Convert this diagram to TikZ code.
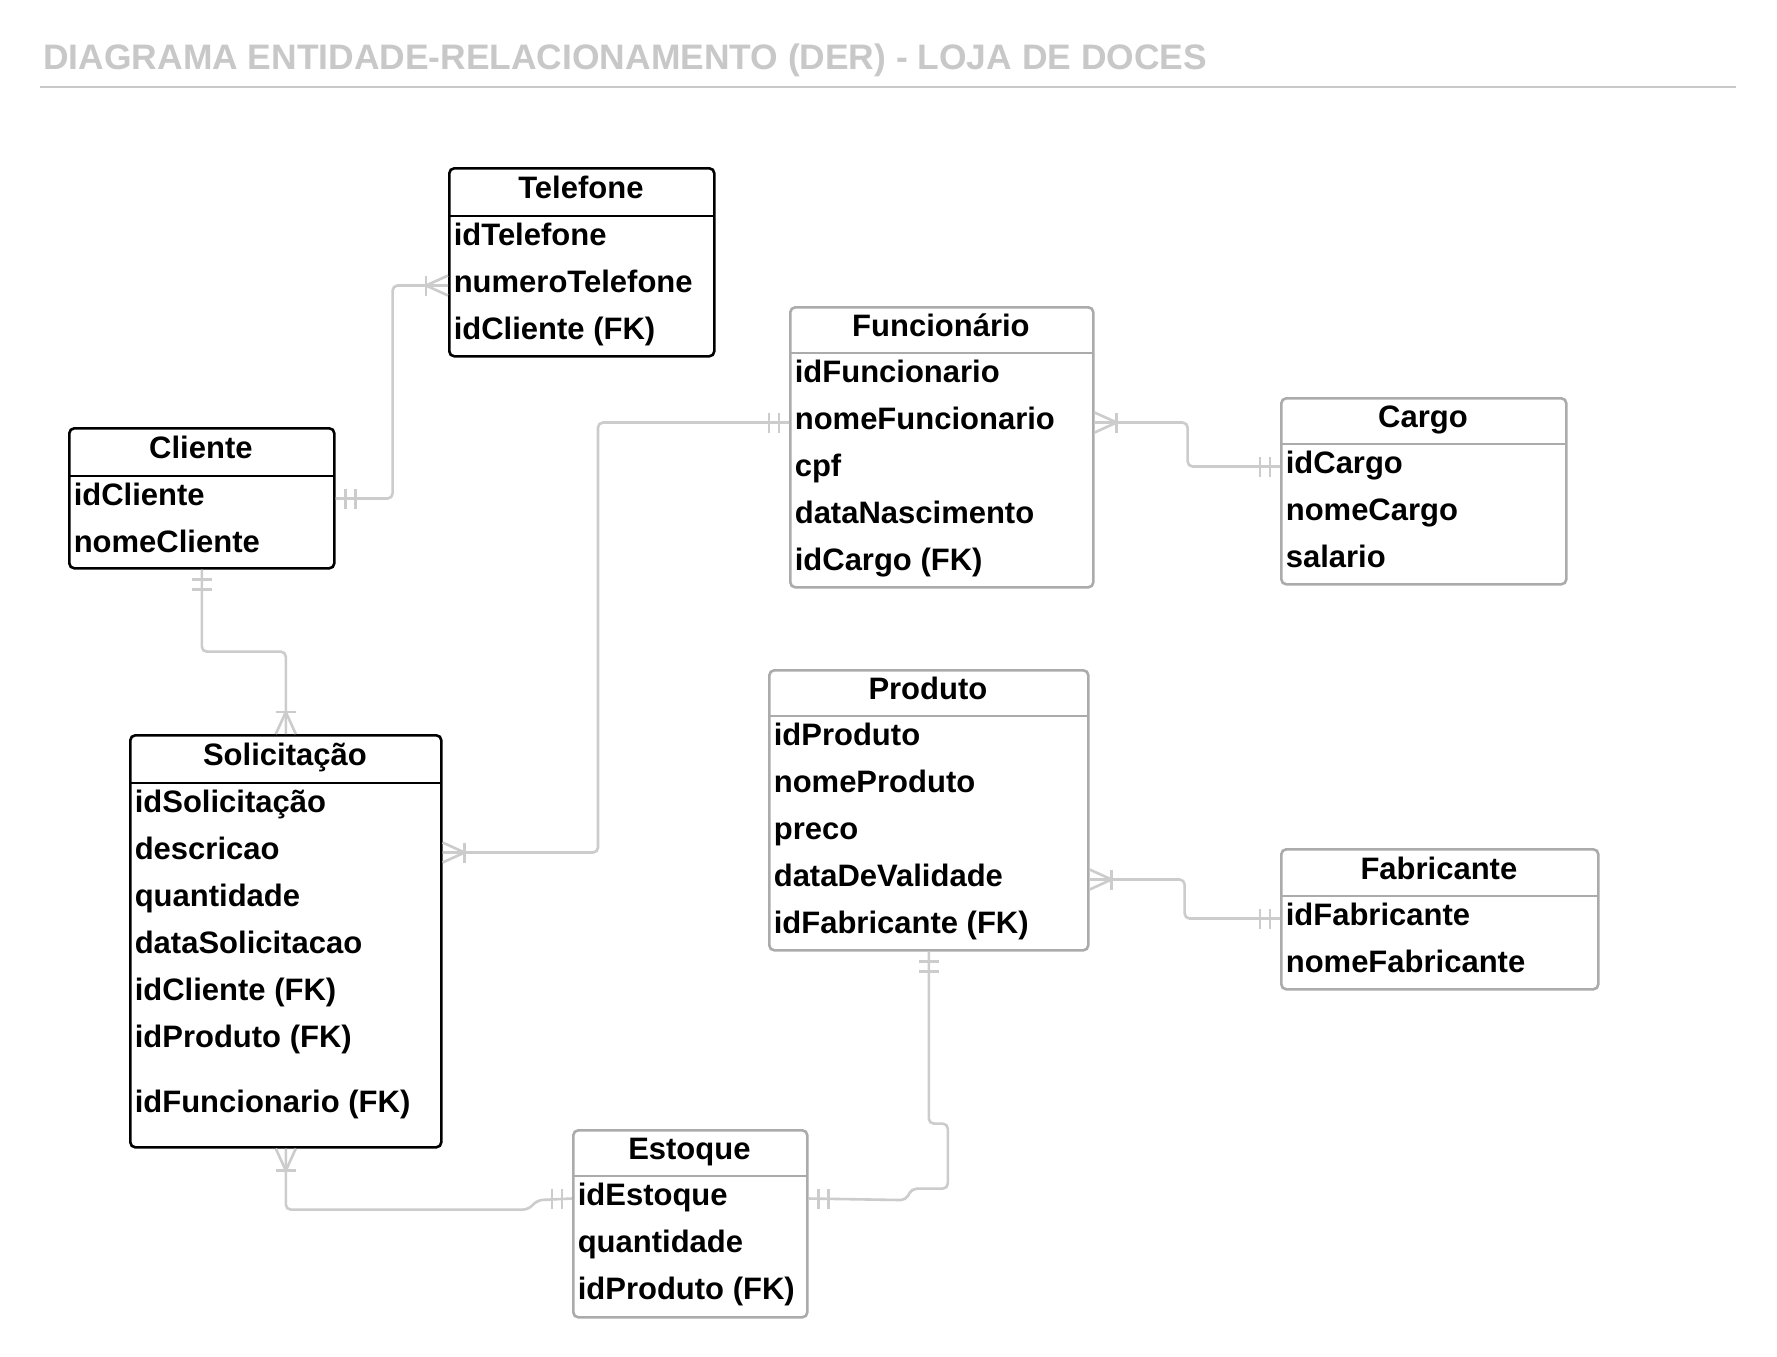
\documentclass[tikz,border=0pt]{standalone}
\usepackage{fontspec}
\setmainfont{Liberation Sans}
\usetikzlibrary{calc}
\definecolor{conncol}{HTML}{CCCCCC}
\definecolor{boxgray}{HTML}{ABABAB}
\definecolor{titlecol}{HTML}{C8C8C8}
\newcommand\rowfont{\fontsize{15.5}{18}\selectfont\bfseries}
% mandatory one: two bars; #1 point, #2 dx, #3 dy (outward direction)
\newcommand\barsone[3]{%
  \draw[conn] ($(#1)+({10*(#2)-10*(#3)},{10*(#3)-10*(#2)})$) -- ++({20*(#3)},{20*(#2)});
  \draw[conn] ($(#1)+({20*(#2)-10*(#3)},{20*(#3)-10*(#2)})$) -- ++({20*(#3)},{20*(#2)});
}
% one or many: bar and crow's foot
\newcommand\crowmany[3]{%
  \draw[conn] ($(#1)+({22*(#2)-10*(#3)},{22*(#3)-10*(#2)})$) -- ++({20*(#3)},{20*(#2)});
  \draw[conn, sharp corners] ($(#1)+({10*(#3)},{10*(#2)})$) -- ($(#1)+({22*(#2)},{22*(#3)})$) -- ($(#1)+({-10*(#3)},{-10*(#2)})$);
}
\begin{document}
\begin{tikzpicture}[x=0.5pt,y=-0.5pt,
  conn/.style={draw=conncol, line width=1.3pt, rounded corners=2.5pt},
  entity/.style={draw, fill=white, rounded corners=2.5pt, line width=1.3pt, anchor=north west, inner sep=0pt},
  blk/.style={entity, draw=black},
  gry/.style={entity, draw=boxgray},
  hdr/.style={anchor=north west, inner sep=0pt, text height=11.3pt, text depth=4.1pt, font=\rowfont},
  row/.style={anchor=west, inner xsep=2.7pt, inner ysep=0pt, text height=11.3pt, text depth=4.1pt, font=\rowfont},
  hline/.style={line width=1.3pt}
]
\useasboundingbox (0,0) rectangle (1777,1356);
\fill[white] (0,0) rectangle (1777,1356);

% title
\node[anchor=base west, inner sep=0pt, text=titlecol, font=\fontsize{17.7}{20}\selectfont\bfseries] (title) at (43,69) {DIAGRAMA ENTIDADE-RELACIONAMENTO (DER) - LOJA DE DOCES};
\coordinate (ruleA) at (40,87);
\coordinate (ruleB) at (1736,87);
\draw[titlecol, line width=1pt] (ruleA) -- (ruleB);

% ---------- entity boxes ----------
% Telefone
\node[blk, minimum width=132.5pt, minimum height=94pt] (tel) at (448,167) {};
\node[hdr, minimum width=132.5pt, minimum height=24pt] (telh) at (tel.north west) {Telefone};
\draw[hline, black] (telh.south west) -- (telh.south east);
\node[row] (te1) at (448,238.5) {idTelefone};
\node[row] (te2) at (448,285.5) {numeroTelefone};
\node[row] (te3) at (448,332.5) {idCliente (FK)};

% Cliente
\node[blk, minimum width=132.5pt, minimum height=70pt] (cli) at (68,427) {};
\node[hdr, minimum width=132.5pt, minimum height=24pt] (clih) at (cli.north west) {Cliente};
\draw[hline, black] (clih.south west) -- (clih.south east);
\node[row] (cl1) at (68,498.5) {idCliente};
\node[row] (cl2) at (68,545.5) {nomeCliente};

% Solicitacao
\node[blk, minimum width=155.5pt, minimum height=206pt] (sol) at (129,734) {};
\node[hdr, minimum width=155.5pt, minimum height=24pt] (solh) at (sol.north west) {Solicitação};
\draw[hline, black] (solh.south west) -- (solh.south east);
\node[row] (so1) at (129,805.5) {idSolicitação};
\node[row] (so2) at (129,852.5) {descricao};
\node[row] (so3) at (129,899.5) {quantidade};
\node[row] (so4) at (129,946.5) {dataSolicitacao};
\node[row] (so5) at (129,993.5) {idCliente (FK)};
\node[row] (so6) at (129,1040.5) {idProduto (FK)};
\node[row] (so7) at (129,1105) {idFuncionario (FK)};

% Funcionario
\node[gry, minimum width=151.5pt, minimum height=140pt] (fun) at (789,306) {};
\node[hdr, minimum width=151.5pt, minimum height=23pt] (funh) at (fun.north west) {Funcionário};
\draw[hline, boxgray] (funh.south west) -- (funh.south east);
\node[row] (fu1) at (789,375.5) {idFuncionario};
\node[row] (fu2) at (789,422.5) {nomeFuncionario};
\node[row] (fu3) at (789,469.5) {cpf};
\node[row] (fu4) at (789,516.5) {dataNascimento};
\node[row] (fu5) at (789,563.5) {idCargo (FK)};

% Cargo
\node[gry, minimum width=142.5pt, minimum height=93pt] (car) at (1280,397) {};
\node[hdr, minimum width=142.5pt, minimum height=23pt] (carh) at (car.north west) {Cargo};
\draw[hline, boxgray] (carh.south west) -- (carh.south east);
\node[row] (ca1) at (1280,466.5) {idCargo};
\node[row] (ca2) at (1280,513.5) {nomeCargo};
\node[row] (ca3) at (1280,560.5) {salario};

% Produto
\node[gry, minimum width=159.5pt, minimum height=140pt] (pro) at (768,669) {};
\node[hdr, minimum width=159.5pt, minimum height=23pt] (proh) at (pro.north west) {Produto};
\draw[hline, boxgray] (proh.south west) -- (proh.south east);
\node[row] (pr1) at (768,738.5) {idProduto};
\node[row] (pr2) at (768,785.5) {nomeProduto};
\node[row] (pr3) at (768,832.5) {preco};
\node[row] (pr4) at (768,879.5) {dataDeValidade};
\node[row] (pr5) at (768,926.5) {idFabricante (FK)};

% Fabricante
\node[gry, minimum width=158.5pt, minimum height=70pt] (fab) at (1280,848) {};
\node[hdr, minimum width=158.5pt, minimum height=23.5pt] (fabh) at (fab.north west) {Fabricante};
\draw[hline, boxgray] (fabh.south west) -- (fabh.south east);
\node[row] (fa1) at (1280,918.5) {idFabricante};
\node[row] (fa2) at (1280,965.5) {nomeFabricante};

% Estoque
\node[gry, minimum width=117pt, minimum height=93.5pt] (est) at (572,1129) {};
\node[hdr, minimum width=117pt, minimum height=23pt] (esth) at (est.north west) {Estoque};
\draw[hline, boxgray] (esth.south west) -- (esth.south east);
\node[row] (es1) at (572,1198.5) {idEstoque};
\node[row] (es2) at (572,1245.5) {quantidade};
\node[row] (es3) at (572,1292.5) {idProduto (FK)};

% ---------- connectors ----------
% Cliente -- Telefone
\coordinate (a1) at (cl1 -| cli.east);
\coordinate (b1) at (te2.west);
\draw[conn] (a1) -- ++(57,0) |- (b1);
\barsone{a1}{1}{0}
\crowmany{b1}{-1}{0}

% Cliente -- Solicitacao
\coordinate (a2) at (cli.south);
\coordinate (b2) at (sol.north);
\draw[conn] (a2) -- ++(0,82) -| (b2);
\barsone{a2}{0}{1}
\crowmany{b2}{0}{-1}

% Funcionario -- Solicitacao
\coordinate (a3) at (fu2.west);
\coordinate (b3) at (so2 -| sol.east);
\draw[conn] (a3) -- ++(-191,0) |- (b3);
\barsone{a3}{-1}{0}
\crowmany{b3}{1}{0}

% Funcionario -- Cargo
\coordinate (a4) at (fu2 -| fun.east);
\coordinate (b4) at (ca1.west);
\draw[conn] (a4) -- ++(93,0) |- (b4);
\crowmany{a4}{1}{0}
\barsone{b4}{-1}{0}

% Produto -- Fabricante
\coordinate (a5) at (pr4 -| pro.east);
\coordinate (b5) at (fa1.west);
\draw[conn] (a5) -- ++(95,0) |- (b5);
\crowmany{a5}{1}{0}
\barsone{b5}{-1}{0}

% Solicitacao -- Estoque
\coordinate (a6) at (sol.south);
\coordinate (b6) at (es1.west);
\draw[conn] (a6) -- ++(0,61) -- ++(242,0) -- ++(10,-9.5) -- (b6);
\crowmany{a6}{0}{1}
\barsone{b6}{-1}{0}

% Produto -- Estoque
\coordinate (a7) at (pro.south);
\coordinate (b7) at (es1 -| est.east);
\draw[conn] (a7) -- ++(0,172) -- ++(19,0) -- ++(0,65) -- ++(-36,0) -- ++(-6,11.5) -- (b7);
\barsone{a7}{0}{1}
\barsone{b7}{1}{0}

\end{tikzpicture}
\end{document}
